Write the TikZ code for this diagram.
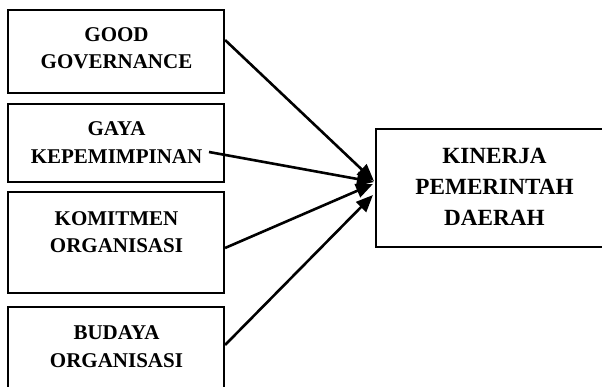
\documentclass[tikz,border=0pt]{standalone}
\usepackage{fontspec}
\setmainfont{Liberation Serif}
\usetikzlibrary{arrows.meta}
\begin{document}
\begin{tikzpicture}[x=1pt,y=-1pt,
  box/.style={draw=black,line width=2.1pt,rectangle,inner sep=0pt},
  lbl/.style={align=center,font=\bfseries\fontsize{21}{27.5}\selectfont,inner sep=0pt},
  rlbl/.style={align=center,font=\bfseries\fontsize{23.2}{31}\selectfont,inner sep=0pt},
  arr/.style={line width=2.6pt,-{Triangle[length=17pt,width=14pt]}}]
\useasboundingbox (0,0) rectangle (602,387);
\clip (0,0) rectangle (602,387);
% boxes
\node[box,minimum width=215.7pt,minimum height=82.7pt] (g1) at (116.15,51.35) {};
\node[box,minimum width=215.7pt,minimum height=77.7pt] (g2) at (116.15,142.85) {};
\node[box,minimum width=215.7pt,minimum height=100.7pt] (g3) at (116.15,242.35) {};
\node[box,minimum width=215.7pt,minimum height=123.3pt] (g4) at (116.15,368.35) {};
\node[box,minimum width=264pt,minimum height=117.4pt] (k) at (508,188) {};
% labels
\node[lbl] (t1) at (116.5,48.4) {GOOD\\GOVERNANCE};
\node[lbl] (t2) at (116.5,142.7) {GAYA\\KEPEMIMPINAN};
\node[lbl] (t3) at (116.5,232.2) {KOMITMEN\\ORGANISASI};
\node[lbl] (t4) at (116.5,346.5) {BUDAYA\\ORGANISASI};
\node[rlbl] (t5) at (494.5,186.5) {KINERJA\\PEMERINTAH\\DAERAH};
% connectors
\draw[arr] ([yshift=11.35pt]g1.east) -- ([xshift=-1pt,yshift=7pt]k.west);
\draw[arr] ([xshift=92.85pt,yshift=-9.15pt]g2.center) -- ([xshift=-1pt,yshift=6pt]k.west);
\draw[arr] ([yshift=-5.65pt]g3.east) -- ([xshift=-2pt,yshift=4pt]k.west);
\draw[arr] ([yshift=23.35pt]g4.east) -- ([xshift=-2pt,yshift=-7pt]k.west);
\end{tikzpicture}
\end{document}
